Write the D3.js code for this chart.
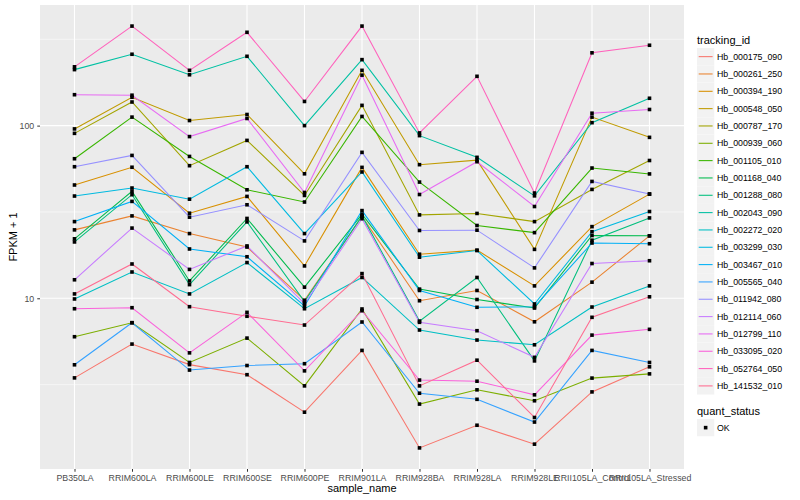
<!DOCTYPE html>
<html>
<head>
<meta charset="utf-8">
<script src="https://cdn.jsdelivr.net/npm/d3@7"></script>
<style>
  body { margin: 0; background: #fff; }
  text { font-family: "Liberation Sans", Arial, Helvetica, sans-serif; }
</style>
</head>
<body>
<svg id="chart" width="800" height="500"></svg>
<script>
/* x categories */
const samples = ['PB350LA', 'RRIM600LA', 'RRIM600LE', 'RRIM600SE', 'RRIM600PE', 'RRIM901LA',
  'RRIM928BA', 'RRIM928LA', 'RRIM928LE', 'RRII105LA_Control', 'RRII105LA_Stressed']

/* legend order */
const trackingIds = ['Hb_000175_090', 'Hb_000261_250', 'Hb_000394_190', 'Hb_000548_050',
  'Hb_000787_170', 'Hb_000939_060', 'Hb_001105_010', 'Hb_001168_040', 'Hb_001288_080',
  'Hb_002043_090', 'Hb_002272_020', 'Hb_003299_030', 'Hb_003467_010', 'Hb_005565_040',
  'Hb_011942_080', 'Hb_012114_060', 'Hb_012799_110', 'Hb_033095_020', 'Hb_052764_050',
  'Hb_141532_010']

/* FPKM + 1 per sample, one array per gene */
const hb000175 = [3.46, 5.43, 4.13, 3.61, 2.19, 4.99, 1.36, 1.84, 1.43, 2.87, 4.01]
const hb000261 = [24.9, 30.0, 23.7, 19.8, 9.74, 29.8, 9.68, 11.1, 7.31, 12.4, 23.0]
const hb000394 = [45.3, 57.4, 31.1, 38.9, 15.4, 57.3, 18.0, 19.0, 11.8, 26.0, 40.1]
const hb000548 = [95.7, 146, 107, 116, 52.6, 209, 59.4, 63.1, 19.2, 112, 85.5]
const hb000787 = [90.2, 137, 58.6, 82.1, 39.4, 131, 30.4, 31.0, 27.8, 42.7, 62.8]
const hb000939 = [5.99, 7.22, 4.25, 5.88, 3.11, 8.67, 2.44, 2.95, 2.55, 3.45, 3.65]
const hb001105 = [64.3, 112, 66.3, 42.5, 36.1, 113, 47.1, 26.4, 24.0, 56.8, 52.5]
const hb001168 = [22.1, 41.6, 12.6, 29.0, 11.6, 30.7, 11.3, 9.84, 8.78, 23.1, 23.0]
const hb001288 = [21.2, 39.8, 12.0, 27.7, 9.56, 30.0, 7.38, 13.2, 4.34, 21.7, 29.2]
const hb002043 = [211, 259, 197, 252, 100, 241, 87.5, 65.5, 39.2, 104, 144]
const hb002272 = [9.91, 14.2, 10.6, 16.1, 8.70, 13.2, 6.55, 5.73, 5.38, 8.90, 11.8]
const hb003299 = [39.1, 43.5, 37.5, 57.8, 23.7, 53.9, 17.3, 18.9, 9.27, 24.3, 31.8]
const hb003467 = [27.8, 36.4, 19.3, 17.4, 9.02, 32.2, 11.1, 8.87, 8.94, 20.9, 20.7]
const hb005565 = [4.12, 7.22, 3.84, 4.08, 4.18, 7.29, 2.82, 2.60, 1.92, 4.99, 4.25]
const hb011942 = [57.8, 67.2, 29.5, 34.8, 21.5, 70.0, 24.7, 24.8, 15.0, 47.5, 40.2]
const hb012114 = [12.8, 25.5, 14.7, 20.1, 9.30, 28.9, 7.26, 6.49, 4.55, 15.9, 16.5]
const hb012799 = [151, 150, 86.4, 110, 41.0, 196, 39.9, 61.8, 34.0, 118, 124]
const hb033095 = [8.70, 8.82, 4.83, 8.29, 3.80, 8.47, 3.36, 3.31, 2.76, 6.12, 6.61]
const hb052764 = [219, 377, 209, 347, 138, 377, 90.7, 193, 40.7, 264, 292]
const hb141532 = [10.6, 15.8, 8.94, 7.87, 7.00, 13.9, 3.11, 4.38, 2.04, 7.76, 10.2]

const fpkm = [hb000175, hb000261, hb000394, hb000548, hb000787, hb000939, hb001105,
  hb001168, hb001288, hb002043, hb002272, hb003299, hb003467, hb005565, hb011942,
  hb012114, hb012799, hb033095, hb052764, hb141532]

/* ggplot default hue palette for 20 levels */
const palette = ['#F8766D', '#EA8331', '#D89000', '#C09B00', '#A3A500', '#7CAE00', '#39B600',
  '#00BB4E', '#00BF7D', '#00C1A3', '#00BFC4', '#00BAE0', '#00B0F6', '#35A2FF', '#9590FF',
  '#C77CFF', '#E76BF3', '#FA62DB', '#FF62BC', '#FF6C91']

const yTicks = [10, 100]
const yMinor = [Math.sqrt(10), Math.sqrt(1000), Math.sqrt(100000)]

/* panel geometry */
const margin = { top: 5, left: 40, right: 116, bottom: 31 }
const W = 800, H = 500
const pw = W - margin.left - margin.right
const ph = H - margin.top - margin.bottom

const series = trackingIds.map((id, i) => ({
  id,
  values: samples.map((s, j) => ({ sample: s, v: fpkm[i][j] }))
}))

/* log scale with ggplot-style 5% expansion */
const all = fpkm.flat()
const lo = Math.log10(d3.min(all)), hi = Math.log10(d3.max(all))
const pad = (hi - lo) * 0.05
const y = d3.scaleLog().domain([10 ** (lo - pad), 10 ** (hi + pad)]).range([ph, 0])
const x = d3.scalePoint().domain(samples).range([0, pw]).padding(0.6)
const color = d3.scaleOrdinal().domain(trackingIds).range(palette)

const svg = d3.select('#chart')
const g = svg.append('g').attr('transform', `translate(${margin.left},${margin.top})`)

/* panel background and grid */
g.append('rect').attr('width', pw).attr('height', ph).attr('fill', '#EBEBEB')
g.selectAll('.minor').data(yMinor).join('line')
  .attr('x1', 0).attr('x2', pw).attr('y1', d => y(d)).attr('y2', d => y(d))
  .attr('stroke', '#fff').attr('stroke-width', 0.55)
g.selectAll('.major').data(yTicks).join('line')
  .attr('x1', 0).attr('x2', pw).attr('y1', d => y(d)).attr('y2', d => y(d))
  .attr('stroke', '#fff').attr('stroke-width', 1.1)
g.selectAll('.vgrid').data(samples).join('line')
  .attr('x1', d => x(d)).attr('x2', d => x(d)).attr('y1', 0).attr('y2', ph)
  .attr('stroke', '#fff').attr('stroke-width', 1.1)

/* lines */
const line = d3.line().x(d => x(d.sample)).y(d => y(d.v))
g.selectAll('.series').data(series).join('path')
  .attr('d', d => line(d.values))
  .attr('fill', 'none')
  .attr('stroke', d => color(d.id))
  .attr('stroke-width', 1.07)

/* points */
g.selectAll('.pt').data(series.flatMap(d => d.values)).join('rect')
  .attr('x', d => x(d.sample) - 1.8).attr('y', d => y(d.v) - 1.8)
  .attr('width', 3.6).attr('height', 3.6).attr('fill', '#000')

/* axes */
const xAxis = g.append('g').attr('transform', `translate(0,${ph})`)
  .call(d3.axisBottom(x).tickSize(2.75).tickPadding(3))
const yAxis = g.append('g')
  .call(d3.axisLeft(y).tickValues(yTicks).tickFormat(d3.format('d')).tickSize(2.75).tickPadding(3))
;[xAxis, yAxis].forEach(a => {
  a.select('.domain').remove()
  a.selectAll('line').attr('stroke', '#333')
  a.selectAll('text').attr('fill', '#4D4D4D').style('font-size', '8.8px')
})

/* axis titles */
svg.append('text').attr('x', margin.left + pw / 2).attr('y', 492)
  .attr('text-anchor', 'middle').style('font-size', '11px').text('sample_name')
svg.append('text').attr('transform', `translate(17,${margin.top + ph / 2}) rotate(-90)`)
  .attr('text-anchor', 'middle').style('font-size', '11px').text('FPKM + 1')

/* legend: tracking_id */
const lg = svg.append('g').attr('transform', 'translate(697,0)')
lg.append('text').attr('x', 0).attr('y', 44).style('font-size', '11px').text('tracking_id')
const key = lg.selectAll('.key').data(trackingIds).join('g')
  .attr('transform', (d, i) => `translate(0,${48 + i * 17.33})`)
key.append('rect').attr('width', 17.28).attr('height', 17.28).attr('fill', '#F2F2F2')
key.append('line').attr('x1', 1.7).attr('x2', 15.6).attr('y1', 8.64).attr('y2', 8.64)
  .attr('stroke', d => color(d)).attr('stroke-width', 1.07)
key.append('text').attr('x', 20).attr('y', 8.64).attr('dy', '0.35em')
  .style('font-size', '8.8px').text(d => d)

/* legend: quant_status */
const lq = svg.append('g').attr('transform', 'translate(697,0)')
lq.append('text').attr('x', 0).attr('y', 415).style('font-size', '11px').text('quant_status')
lq.append('rect').attr('y', 419).attr('width', 17.28).attr('height', 17.28).attr('fill', '#F2F2F2')
lq.append('rect').attr('x', 6.84).attr('y', 425.84).attr('width', 3.6).attr('height', 3.6).attr('fill', '#000')
lq.append('text').attr('x', 20).attr('y', 427.64).attr('dy', '0.35em')
  .style('font-size', '8.8px').text('OK')
</script>
</body>
</html>
